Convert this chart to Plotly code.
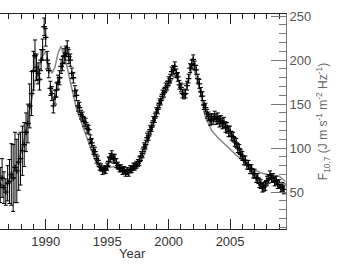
import plotly.graph_objects as go

# Observed F10.7 (black points with error bars)
obs_year = [1986.3, 1986.45, 1986.6, 1986.75, 1986.9, 1987.05, 1987.2, 1987.35, 1987.5, 1987.65,
            1987.8, 1987.95, 1988.1, 1988.25, 1988.4, 1988.55, 1988.7, 1988.85, 1989.0, 1989.125,
            1989.25, 1989.375, 1989.5, 1989.625, 1989.75, 1989.875, 1990.0, 1990.125, 1990.25, 1990.375,
            1990.5, 1990.625, 1990.75, 1990.875, 1991.0, 1991.125, 1991.25, 1991.375, 1991.5, 1991.625,
            1991.75, 1991.875, 1992.0, 1992.125, 1992.25, 1992.375, 1992.5, 1992.625, 1992.75, 1992.875,
            1993.0, 1993.125, 1993.25, 1993.375, 1993.5, 1993.625, 1993.75, 1993.875, 1994.0, 1994.125,
            1994.25, 1994.375, 1994.5, 1994.625, 1994.75, 1994.875, 1995.0, 1995.125, 1995.25, 1995.375,
            1995.5, 1995.625, 1995.75, 1995.875, 1996.0, 1996.125, 1996.25, 1996.375, 1996.5, 1996.625,
            1996.75, 1996.875, 1997.0, 1997.125, 1997.25, 1997.375, 1997.5, 1997.625, 1997.75, 1997.875,
            1998.0, 1998.125, 1998.25, 1998.375, 1998.5, 1998.625, 1998.75, 1998.875, 1999.0, 1999.125,
            1999.25, 1999.375, 1999.5, 1999.625, 1999.75, 1999.875, 2000.0, 2000.125, 2000.25, 2000.375,
            2000.5, 2000.625, 2000.75, 2000.875, 2001.0, 2001.125, 2001.25, 2001.375, 2001.5, 2001.625,
            2001.75, 2001.875, 2002.0, 2002.125, 2002.25, 2002.375, 2002.5, 2002.625, 2002.75, 2002.875,
            2003.0, 2003.125, 2003.25, 2003.375, 2003.5, 2003.625, 2003.75, 2003.875, 2004.0, 2004.125,
            2004.25, 2004.375, 2004.5, 2004.625, 2004.75, 2004.875, 2005.0, 2005.125, 2005.25, 2005.375,
            2005.5, 2005.625, 2005.75, 2005.875, 2006.0, 2006.125, 2006.25, 2006.375, 2006.5, 2006.625,
            2006.75, 2006.875, 2007.0, 2007.125, 2007.25, 2007.375, 2007.5, 2007.625, 2007.75, 2007.875,
            2008.0, 2008.125, 2008.25, 2008.375, 2008.5, 2008.625, 2008.75, 2008.875, 2009.0, 2009.125,
            2009.25, 2009.375]
obs_flux = [58, 66, 55, 50, 60, 62, 70, 66, 78, 74,
            84, 88, 97, 104, 118, 128, 148, 162, 188, 205,
            192, 185, 178, 200, 212, 238, 226, 200, 188, 168,
            162, 148, 158, 166, 175, 180, 193, 196, 205, 208,
            214, 204, 200, 185, 180, 165, 160, 148, 146, 138,
            136, 130, 129, 122, 121, 110, 106, 98, 96, 88,
            86, 79, 78, 74, 76, 75, 79, 85, 89, 92,
            88, 88, 83, 80, 77, 77, 74, 75, 72, 74,
            72, 76, 76, 79, 79, 81, 83, 85, 91, 94,
            101, 104, 112, 114, 121, 124, 131, 134, 141, 144,
            151, 154, 161, 163, 169, 171, 176, 179, 187, 189,
            193, 185, 181, 172, 169, 162, 161, 162, 171, 179,
            191, 195, 201, 194, 189, 179, 173, 164, 159, 149,
            146, 139, 136, 132, 133, 133, 136, 133, 134, 130,
            131, 128, 129, 124, 123, 119, 119, 114, 113, 107,
            106, 100, 99, 93, 91, 86, 86, 81, 81, 76,
            76, 71, 71, 66, 66, 60, 59, 55, 56, 57,
            63, 65, 69, 66, 66, 62, 63, 59, 59, 55,
            56, 53]
obs_err = [20, 22, 18, 15, 20, 25, 35, 38, 40, 36,
           32, 30, 28, 25, 22, 22, 25, 25, 22, 18,
           15, 12, 12, 12, 12, 10, 10, 10, 8, 8,
           8, 8, 8, 8, 8, 8, 8, 8, 8, 8,
           8, 8, 7, 6, 6, 6, 6, 6, 6, 5,
           5, 5, 5, 5, 5, 5, 5, 5, 5, 5,
           5, 4, 4, 4, 4, 4, 4, 5, 5, 5,
           5, 5, 5, 4, 4, 4, 4, 4, 4, 4,
           4, 4, 4, 4, 4, 4, 4, 5, 5, 5,
           5, 5, 5, 5, 5, 5, 5, 5, 5, 5,
           5, 5, 5, 5, 5, 5, 5, 5, 5, 5,
           5, 5, 5, 5, 5, 5, 5, 5, 5, 5,
           5, 5, 5, 5, 5, 5, 5, 5, 5, 5,
           5, 5, 5, 6, 6, 6, 6, 6, 6, 6,
           6, 6, 6, 6, 6, 6, 6, 5, 5, 5,
           5, 5, 5, 5, 5, 5, 5, 5, 5, 5,
           5, 5, 5, 5, 5, 5, 5, 5, 5, 5,
           5, 5, 5, 5, 5, 5, 5, 5, 5, 5,
           5, 5]

# Model curve (grey line)
mod_year = [1986.3, 1986.75, 1987.25, 1987.75, 1988.25, 1988.75, 1989.25, 1989.75, 1990.0, 1990.25,
            1990.5, 1990.75, 1991.0, 1991.25, 1991.5, 1991.75, 1992.0, 1992.5, 1993.0, 1993.5,
            1994.0, 1994.5, 1995.0, 1995.5, 1996.0, 1996.5, 1997.0, 1997.5, 1998.0, 1998.5,
            1999.0, 1999.5, 2000.0, 2000.5, 2001.0, 2001.5, 2002.0, 2002.5, 2003.0, 2003.5,
            2004.0, 2004.5, 2005.0, 2005.5, 2006.0, 2006.5, 2007.0, 2007.5, 2008.0, 2008.5,
            2009.0, 2009.5]
mod_flux = [55, 58, 70, 85, 110, 150, 185, 205, 210, 195,
            185, 192, 208, 216, 205, 192, 175, 145, 125, 105,
            87, 76, 77, 79, 75, 72, 74, 78, 92, 115,
            138, 156, 170, 183, 172, 174, 193, 168, 135, 120,
            112, 105, 98, 92, 86, 80, 75, 72, 70, 69,
            68, 62]

x_ticks = [1990, 1995, 2000, 2005]
y_ticks = [50, 100, 150, 200, 250]

fig = go.Figure()
fig.add_trace(go.Scatter(
    x=mod_year, y=mod_flux, mode="lines",
    line=dict(color="#888888", width=1.5), showlegend=False))
fig.add_trace(go.Scatter(
    x=obs_year, y=obs_flux, mode="markers",
    marker=dict(color="black", size=4, symbol="cross-thin", line=dict(color="black", width=1.3)),
    error_y=dict(type="data", array=obs_err, color="black", thickness=1, width=2),
    showlegend=False))

font_family = "Liberation Sans, Arial, sans-serif"
fig.update_layout(
    width=357, height=267,
    margin=dict(l=0, r=71, t=14, b=38),
    plot_bgcolor="white", paper_bgcolor="white",
    font=dict(family=font_family, size=13, color="#333333"),
    xaxis=dict(
        range=[1986.28, 2009.55], tickvals=x_ticks, ticktext=[str(v) for v in x_ticks],
        showgrid=False, zeroline=False,
        showline=True, linecolor="#222222", linewidth=1, mirror="ticks",
        ticks="inside", ticklen=10, tickcolor="#222222", tickwidth=1,
        minor=dict(dtick=1, tick0=1986, ticks="inside", ticklen=5, tickcolor="#222222", tickwidth=1),
        tickfont=dict(size=13, color="#333333"),
    ),
    yaxis=dict(
        range=[8, 252.5], side="right", tickvals=y_ticks, ticktext=[str(v) for v in y_ticks],
        showgrid=False, zeroline=False,
        showline=True, linecolor="#777777", linewidth=1,
        ticks="inside", ticklen=15, tickcolor="#777777", tickwidth=1,
        minor=dict(dtick=10, tick0=0, ticks="inside", ticklen=7, tickcolor="#777777", tickwidth=1),
        tickfont=dict(size=13, color="#555555"),
        title=dict(text="F<sub>10.7</sub> (J m s<sup>-1</sup> m<sup>-2</sup> Hz<sup>-1</sup>)",
                   font=dict(size=12, color="#666666"), standoff=8),
    ),
    annotations=[dict(text="Year", x=132/286, y=-0.116, xref="paper", yref="paper",
                      showarrow=False, xanchor="center", yanchor="middle",
                      font=dict(size=13, color="#333333"))],
)

fig.write_html("out.html", config={"displayModeBar": False},
               post_script="document.body.style.margin='0';")
